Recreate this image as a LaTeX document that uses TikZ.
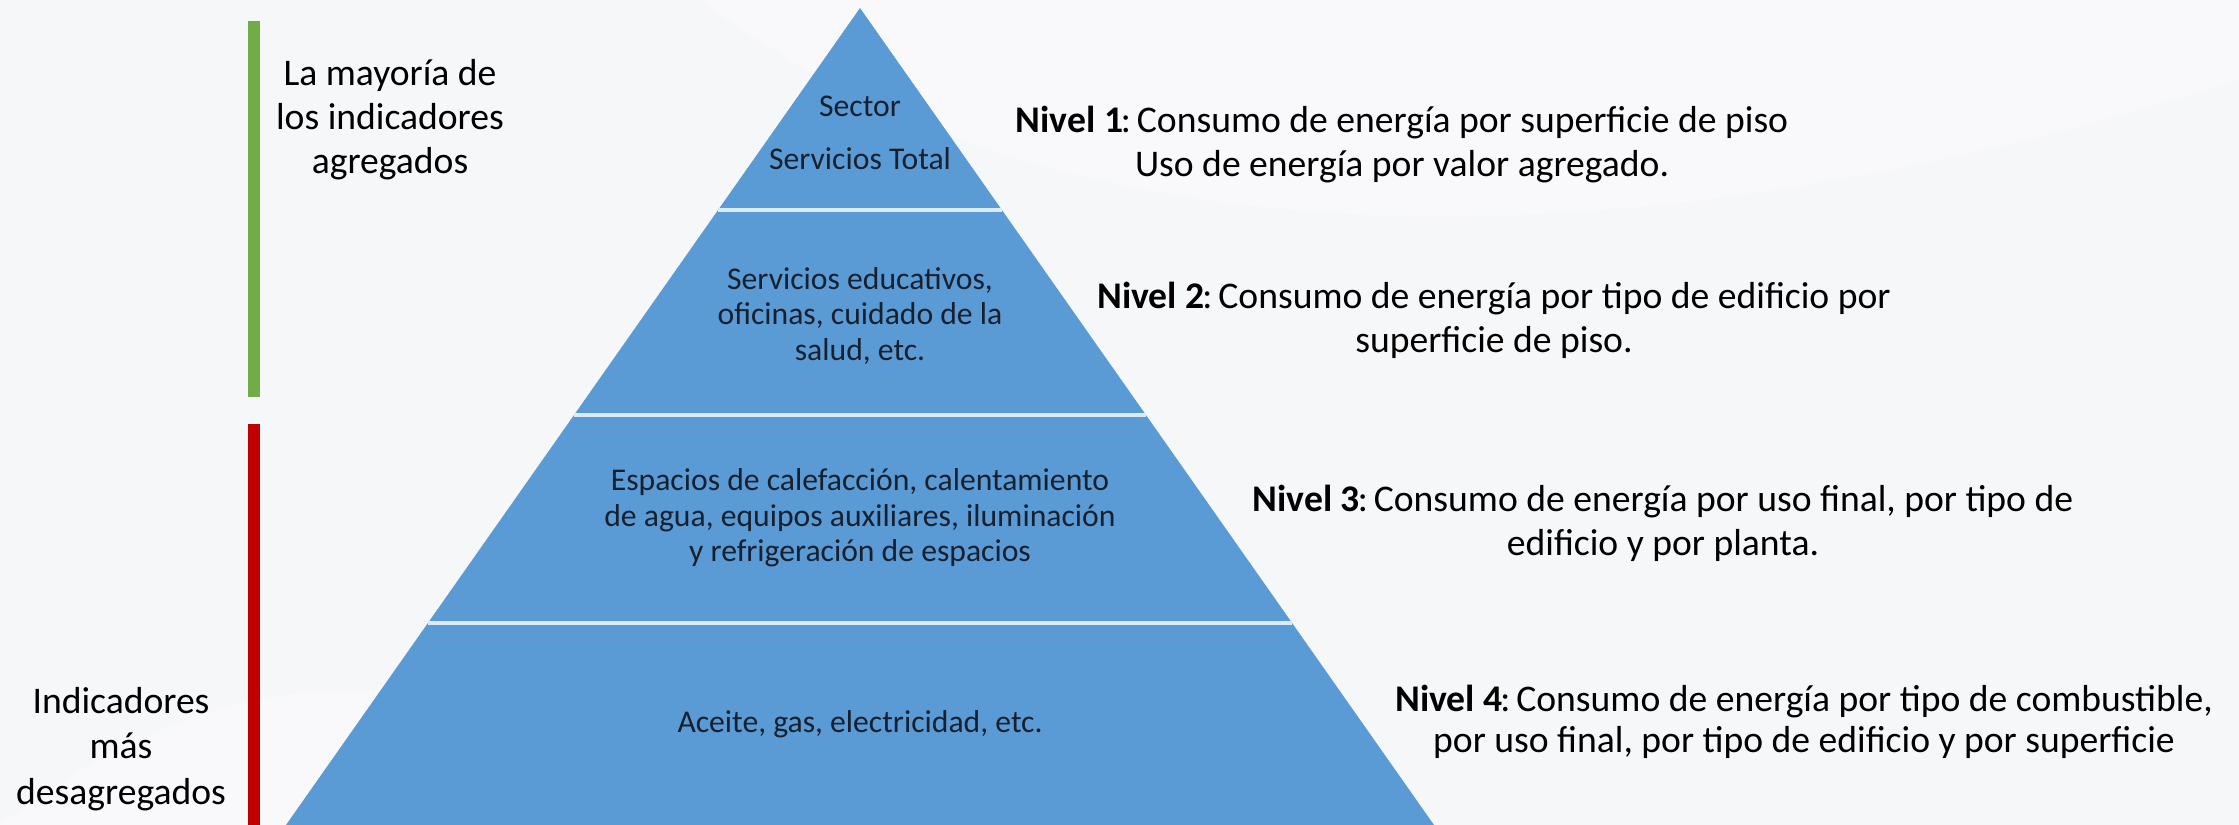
\documentclass[tikz,border=0pt]{standalone}
\usepackage{fontspec}
\setmainfont{Carlito}
\definecolor{bg}{HTML}{F6F7F9}
\definecolor{pyr}{HTML}{5B9BD5}
\definecolor{divl}{HTML}{DDEBF7}
\definecolor{ink}{HTML}{16202E}
\definecolor{barg}{HTML}{70AD47}
\definecolor{barr}{HTML}{C00000}
\newcommand{\niv}[1]{\textbf{Nivel #1}\kern-0.06em:\kern0.16em}
\tikzset{
  bigtxt/.style={align=center, text=black, inner sep=0pt, font=\fontsize{10.7}{12.5}\selectfont},
  smalltxt/.style={align=center, text=ink, inner sep=0pt, font=\fontsize{9}{10.1}\selectfont},
  divider/.style={draw=divl, line width=1pt},
}
\begin{document}
\begin{tikzpicture}[x=0.01cm, y=-0.01cm]
\useasboundingbox (0,0) rectangle (2239,825);
\fill[bg] (0,0) rectangle (2239,825);
% faint background swooshes
\fill[white, opacity=0.35] (700,0) .. controls (1100,300) and (1700,250) .. (2239,80) -- (2239,0) -- cycle;
\fill[white, opacity=0.35] (0,825) .. controls (300,600) and (500,700) .. (700,825) -- cycle;
% bars
\fill[barg] (248,21) rectangle (260,397);
\fill[barr] (248,424) rectangle (260,825);
% pyramid
\fill[pyr] (860,8) -- (1434,825) -- (286,825) -- cycle;
\coordinate (d1l) at (718,210); \coordinate (d1r) at (1002,210);
\coordinate (d2l) at (574,415); \coordinate (d2r) at (1146,415);
\coordinate (d3l) at (428,623); \coordinate (d3r) at (1292,623);
\draw[divider] (d1l) -- (d1r);
\draw[divider] (d2l) -- (d2r);
\draw[divider] (d3l) -- (d3r);
% inner texts
\node[smalltxt, font=\fontsize{9}{15}\selectfont] (p1) at (860,133) {Sector\\Servicios Total};
\node[smalltxt] (p2) at (860,316) {Servicios educativos,\\oficinas, cuidado de la\\salud, etc.};
\node[smalltxt] (p3) at (860,518) {Espacios de calefacción, calentamiento\\de agua, equipos auxiliares, iluminación\\y refrigeración de espacios};
\node[smalltxt] (p4) at (860,724) {Aceite, gas, electricidad, etc.};
% left texts
\node[bigtxt] (top) at (390,120) {La mayoría de\\los indicadores\\agregados};
\node[bigtxt, font=\fontsize{10.7}{13}\selectfont] (bot) at (121,749) {Indicadores\\más\\desagregados};
% right texts
\node[bigtxt] (n1) at (1402,145) {\niv{1}Consumo de energía por superficie de piso\\Uso de energía por valor agregado.};
\node[bigtxt] (n2) at (1494,320) {\niv{2}Consumo de energía por tipo de edificio por\\superficie de piso.};
\node[bigtxt] (n3) at (1663,523) {\niv{3}Consumo de energía por uso final, por tipo de\\edificio y por planta.};
\node[bigtxt, font=\fontsize{10.7}{11.7}\selectfont] (n4) at (1804,722) {\niv{4}Consumo de energía por tipo de combustible,\\por uso final, por tipo de edificio y por superficie};
\end{tikzpicture}
\end{document}
